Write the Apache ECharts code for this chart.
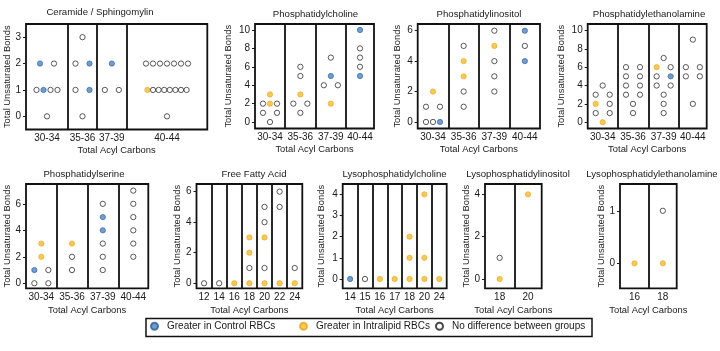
<!DOCTYPE html>
<html>
<head>
    <meta charset="utf-8">
    <script type="text/javascript" src="https://cdn.jsdelivr.net/npm/echarts@6/dist/echarts.min.js"></script>
    <title>Lipid species</title>
    <style>html,body{margin:0;padding:0;background:#fff;}</style>
</head>
<body>
    <div id="container" style="width:720px;height:351px;"></div>
    <script type="text/javascript">
    // status codes: c = greater in control, i = greater in intralipid, n = no difference
    // each group is a list of rows: [unsaturated bonds, status, status, ...] left to right

    var cerCats = ['30-34', '35-36', '37-39', '40-44'];
    var cerPts = [
        [[2, 'c', 'n'], [1, 'n', 'c', 'n', 'n'], [0, 'n']],
        [[3, 'n'], [2, 'n', 'c'], [1, 'n', 'c'], [0, 'n']],
        [[2, 'c'], [1, 'n', 'n']],
        [[2, 'n', 'n', 'n', 'n', 'n', 'n', 'n'], [1, 'i', 'n', 'n', 'n', 'n', 'n', 'n', 'n'], [0, 'n']]
    ];

    var pcCats = ['30-34', '35-36', '37-39', '40-44'];
    var pcPts = [
        [[3, 'i'], [2, 'n', 'i', 'n'], [1, 'n', 'n'], [0, 'n']],
        [[6, 'n'], [5, 'n'], [3, 'i'], [2, 'n', 'n'], [1, 'n']],
        [[7, 'n'], [5, 'c'], [4, 'n', 'n'], [2, 'i']],
        [[10, 'c'], [8, 'n'], [7, 'n'], [6, 'n'], [5, 'c']]
    ];

    var piCats = ['30-34', '35-36', '37-39', '40-44'];
    var piPts = [
        [[2, 'i'], [1, 'n', 'n'], [0, 'n', 'n', 'c']],
        [[5, 'n'], [4, 'i'], [3, 'i'], [2, 'n'], [1, 'n']],
        [[6, 'n'], [5, 'i'], [4, 'n'], [3, 'n'], [2, 'n']],
        [[6, 'c'], [5, 'n'], [4, 'c']]
    ];

    var peCats = ['30-34', '35-36', '37-39', '40-44'];
    var pePts = [
        [[4, 'n'], [3, 'n', 'n'], [2, 'i', 'n'], [1, 'n', 'n'], [0, 'i']],
        [[6, 'n', 'n'], [5, 'n', 'n'], [4, 'n', 'n'], [3, 'n', 'n'], [2, 'n'], [1, 'n']],
        [[7, 'n'], [6, 'i', 'n'], [5, 'n', 'c'], [4, 'n', 'n'], [3, 'n'], [2, 'n'], [1, 'n']],
        [[9, 'n'], [6, 'n', 'n'], [5, 'n', 'n'], [2, 'n']]
    ];

    var psCats = ['30-34', '35-36', '37-39', '40-44'];
    var psPts = [
        [[3, 'i'], [2, 'i'], [1, 'c', 'n'], [0, 'n', 'n']],
        [[3, 'i'], [2, 'n'], [1, 'n']],
        [[6, 'n'], [5, 'c'], [4, 'c'], [3, 'n'], [2, 'n'], [1, 'n']],
        [[7, 'n'], [6, 'n'], [5, 'n'], [4, 'n'], [3, 'n'], [2, 'n']]
    ];

    var ffaCats = ['12', '14', '16', '18', '20', '22', '24'];
    var ffaPts = [
        [[0, 'n']],
        [[0, 'n']],
        [[0, 'i']],
        [[3, 'i'], [2, 'i'], [1, 'n'], [0, 'i']],
        [[5, 'n'], [4, 'n'], [3, 'i'], [1, 'n'], [0, 'i']],
        [[6, 'n'], [5, 'n'], [0, 'i']],
        [[1, 'n'], [0, 'i']]
    ];

    var lpcCats = ['14', '15', '16', '17', '18', '20', '24'];
    var lpcPts = [
        [[0, 'c']],
        [[0, 'n']],
        [[0, 'i']],
        [[0, 'i']],
        [[2, 'i'], [1, 'i'], [0, 'i']],
        [[4, 'i'], [1, 'i'], [0, 'i']],
        [[0, 'i']]
    ];

    var lpiCats = ['18', '20'];
    var lpiPts = [
        [[1, 'n'], [0, 'i']],
        [[4, 'i']]
    ];

    var lpeCats = ['16', '18'];
    var lpePts = [
        [[0, 'i']],
        [[1, 'n'], [0, 'i']]
    ];

    // panel layout (pixels) and axis settings
    function even(w, n) {
        var e = [];
        for (var i = 0; i <= n; i++) e.push(w * i / n);
        return e;
    }
    var panels = [
        { title: 'Ceramide / Sphingomylin', cats: cerCats, pts: cerPts, left: 26, top: 24, w: 181.3, h: 105.5,
          edges: [0, 42, 71, 100.7, 181.3], ymin: -0.5, ymax: 3.5, ticks: [0, 1, 2, 3], nameGap: 13.8, tx: 100, ty: 7 },
        { title: 'Phosphatidylcholine', cats: pcCats, pts: pcPts, left: 255, top: 24, w: 119, h: 104.5,
          edges: [0, 30, 60.7, 91, 119], ymin: -0.7, ymax: 10.65, ticks: [0, 2, 4, 6, 8, 10], nameGap: 22.5, tx: 315.5, ty: 9.5 },
        { title: 'Phosphatidylinositol', cats: piCats, pts: piPts, left: 417.7, top: 24, w: 122.3, h: 104.5,
          edges: [0, 30.6, 61.3, 92, 122.3], ymin: -0.43, ymax: 6.44, ticks: [0, 2, 4, 6], nameGap: 15.5, tx: 479, ty: 9.5 },
        { title: 'Phosphatidylethanolamine', cats: peCats, pts: pePts, left: 587.7, top: 24, w: 119, h: 104.5,
          edges: [0, 30, 60.6, 91.3, 119], ymin: -0.68, ymax: 10.7, ticks: [0, 2, 4, 6, 8, 10], nameGap: 21.5, tx: 649, ty: 9 },
        { title: 'Phosphatidylserine', cats: psCats, pts: psPts, left: 26, top: 184, w: 122.3, h: 104.3,
          edges: [0, 30.7, 61.3, 92.3, 122.3], ymin: -0.38, ymax: 7.5, ticks: [0, 2, 4, 6], nameGap: 14.5, tx: 84, ty: 169.5 },
        { title: 'Free Fatty Acid', cats: ffaCats, pts: ffaPts, left: 196.5, top: 184, w: 105.8, h: 104.3,
          edges: even(105.8, 7), ymin: -0.33, ymax: 6.5, ticks: [0, 2, 4, 6], nameGap: 14.3, tx: 254, ty: 169.5 },
        { title: 'Lysophosphatidylcholine', cats: lpcCats, pts: lpcPts, left: 342.7, top: 184, w: 104, h: 104.3,
          edges: even(104, 7), ymin: -0.44, ymax: 4.49, ticks: [0, 1, 2, 3, 4], nameGap: 17.2, tx: 394.5, ty: 169.5 },
        { title: 'Lysophosphatidylinositol', cats: lpiCats, pts: lpiPts, left: 485, top: 184, w: 56.7, h: 104.3,
          edges: [0, 29.3, 56.7], ymin: -0.44, ymax: 4.49, ticks: [0, 2, 4], nameGap: 12.8, tx: 518, ty: 169.5 },
        { title: 'Lysophosphatidylethanolamine', cats: lpeCats, pts: lpePts, left: 620, top: 184, w: 56.7, h: 104.3,
          edges: [0, 29, 56.7], ymin: -0.475, ymax: 1.51, ticks: [0, 1], nameGap: 13.5, tx: 652, ty: 169.5 }
    ];

    var FONT = '"Liberation Sans", Arial, sans-serif';
    var INK = '#1a1a1a';
    var SLOT = 7; // horizontal spacing between points in a row
    var NAMES = { c: 'Greater in Control RBCs', i: 'Greater in Intralipid RBCs', n: 'No difference between groups' };
    var STYLES = {
        c: { color: '#4a84c4', borderColor: '#2d5f96', borderWidth: 0.8 },
        i: { color: '#f8bc2a', borderColor: '#e6a71c', borderWidth: 0.8 },
        n: { color: '#ffffff', borderColor: INK, borderWidth: 0.9 }
    };

    // offsets of n points in one row, in slot units
    function rowOffsets(n) {
        if (n === 1) return [0];
        if (n === 2) return [-1, 1];
        var step = n >= 8 ? 0.8 : 1;
        var out = [];
        for (var k = 0; k < n; k++) out.push((k - (n - 1) / 2) * step);
        return out;
    }

    var grids = [], xAxes = [], yAxes = [], titles = [], series = [];

    panels.forEach(function(p, k) {
        var centers = [];
        for (var g = 0; g < p.cats.length; g++) centers.push((p.edges[g] + p.edges[g + 1]) / 2);

        grids.push({ left: p.left, top: p.top, width: p.w, height: p.h, show: true,
            borderColor: '#111', borderWidth: 1.8, backgroundColor: 'transparent' });

        xAxes.push({
            gridIndex: k, type: 'value', min: 0, max: p.w,
            axisLine: { show: false }, axisTick: { show: false }, splitLine: { show: false },
            axisLabel: {
                customValues: centers, margin: 4, fontSize: 10, color: INK, fontFamily: FONT,
                formatter: function(v) {
                    var best = 0;
                    for (var j = 1; j < centers.length; j++) {
                        if (Math.abs(centers[j] - v) < Math.abs(centers[best] - v)) best = j;
                    }
                    return p.cats[best];
                }
            },
            name: 'Total Acyl Carbons', nameLocation: 'middle', nameGap: k < 4 ? 16 : 17.5,
            nameTextStyle: { fontSize: 9.4, color: INK, fontFamily: FONT }
        });

        yAxes.push({
            gridIndex: k, type: 'value', min: p.ymin, max: p.ymax,
            axisLine: { show: false }, splitLine: { show: false },
            axisTick: { show: true, length: 3, customValues: p.ticks, lineStyle: { color: INK, width: 1 } },
            axisLabel: { customValues: p.ticks, margin: 5, fontSize: 10, color: INK, fontFamily: FONT },
            name: 'Total Unsaturated Bonds', nameLocation: 'middle', nameRotate: 90, nameGap: p.nameGap,
            nameTextStyle: { fontSize: 9.4, color: INK, fontFamily: FONT }
        });

        titles.push({ text: p.title, left: p.tx, top: p.ty, textAlign: 'center', padding: 0,
            textStyle: { fontSize: 9.6, fontWeight: 'normal', color: INK, fontFamily: FONT } });

        var byStatus = { c: [], i: [], n: [] };
        p.pts.forEach(function(rows, g) {
            rows.forEach(function(row) {
                var y = row[0];
                var st = row.slice(1);
                var offs = rowOffsets(st.length);
                st.forEach(function(s, j) {
                    byStatus[s].push([centers[g] + offs[j] * SLOT, y]);
                });
            });
        });

        ['c', 'i', 'n'].forEach(function(s) {
            var ser = {
                name: NAMES[s], type: 'scatter', xAxisIndex: k, yAxisIndex: k,
                symbol: 'circle', symbolSize: 5.3, itemStyle: STYLES[s],
                data: byStatus[s], silent: true, z: 3
            };
            if (s === 'n') {
                ser.markLine = {
                    silent: true, symbol: ['none', 'none'], label: { show: false },
                    lineStyle: { color: '#111', width: 1.8, type: 'solid' },
                    emphasis: { disabled: true },
                    data: p.edges.slice(1, -1).map(function(e) { return { xAxis: e }; })
                };
            }
            series.push(ser);
        });
    });

    function legendItem(name, left) {
        return {
            data: [name], left: left, top: 321.3, padding: 0, icon: 'circle',
            itemWidth: 7, itemHeight: 7, selectedMode: false,
            textStyle: { fontSize: 10, color: INK, fontFamily: FONT, padding: [0, 0, 0, 4] }
        };
    }

    var myChart = echarts.init(document.getElementById('container'));
    var option = {
        animation: false,
        backgroundColor: '#fff',
        title: titles,
        grid: grids,
        xAxis: xAxes,
        yAxis: yAxes,
        legend: [
            legendItem(NAMES.c, 150),
            legendItem(NAMES.i, 299),
            legendItem(NAMES.n, 435)
        ],
        graphic: [{
            type: 'rect', silent: true,
            shape: { x: 146, y: 318.5, width: 446, height: 18 },
            style: { fill: 'none', stroke: '#111', lineWidth: 1.5 }
        }],
        series: series
    };
    myChart.setOption(option);
    </script>
</body>
</html>
